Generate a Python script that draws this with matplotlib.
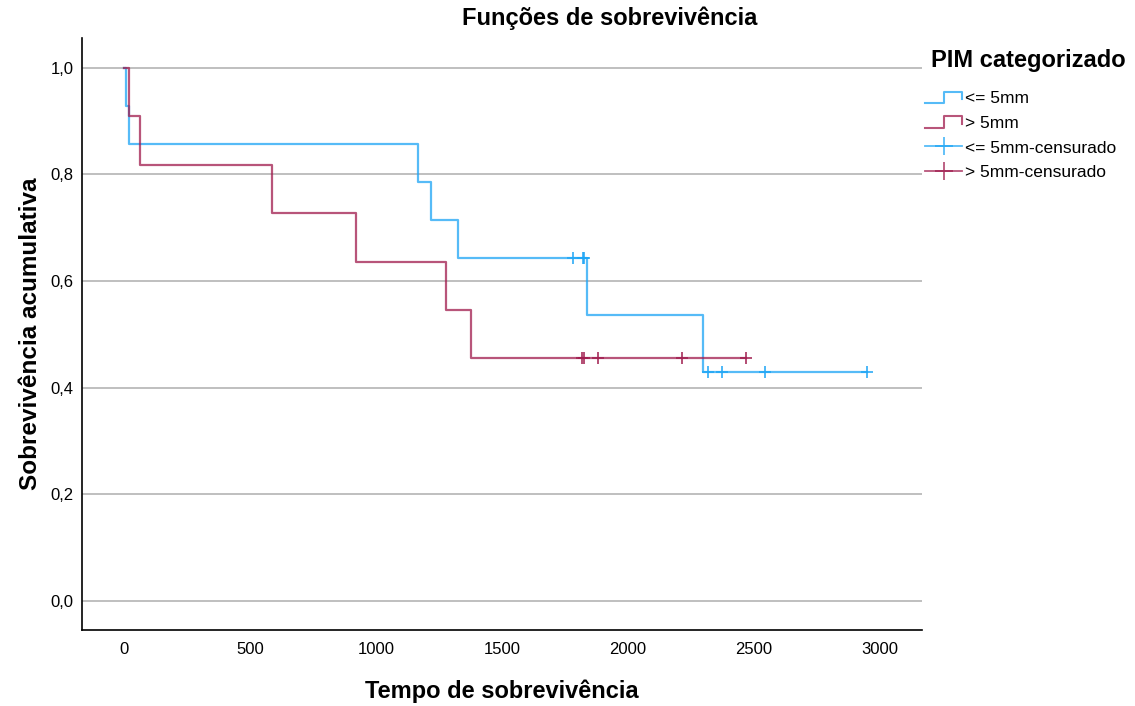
import matplotlib
matplotlib.use("Agg")
import matplotlib.pyplot as plt
from matplotlib.legend_handler import HandlerBase
from matplotlib.lines import Line2D
import numpy as np

# tempos de evento (1 = obito, 0 = censurado)
grp1_label = "<= 5mm"
grp1_time = [7, 21, 1167, 1218, 1325, 1782, 1820, 1826, 1836, 2299, 2319, 2373, 2544, 2947]
grp1_event = [1, 1, 1, 1, 1, 0, 0, 0, 1, 1, 0, 0, 0, 0]

grp2_label = "> 5mm"
grp2_time = [21, 63, 587, 921, 1276, 1377, 1816, 1825, 1880, 2216, 2468]
grp2_event = [1, 1, 1, 1, 1, 1, 0, 0, 0, 0, 0]

xticks = [0, 500, 1000, 1500, 2000, 2500, 3000]
yticks = [0.0, 0.2, 0.4, 0.6, 0.8, 1.0]

blue = "#1EA5F5"
red = "#A01C4E"

plt.rcParams['font.family'] = ['Liberation Sans', 'DejaVu Sans']


def km(times, events):
    t = np.array(times, dtype=float)
    e = np.array(events)
    xs, ys = [0.0], [1.0]
    cx, cy = [], []
    s = 1.0
    at_risk = len(t)
    for ti, ei in zip(t, e):
        if ei == 1:
            s = s * (at_risk - 1) / at_risk
            xs.append(ti)
            ys.append(s)
        else:
            cx.append(ti)
            cy.append(s)
        at_risk -= 1
    xs.append(t.max())
    ys.append(s)
    return xs, ys, cx, cy


class StepHandler(HandlerBase):
    def create_artists(self, legend, orig, xd, yd, width, height, fontsize, trans):
        x = np.array([0, 0.5, 0.5, 1.0, 1.0]) * width - xd
        y = np.array([0.0, 0.0, 0.95, 0.95, 0.35]) * height - yd
        ln = Line2D(x, y, color=orig.get_color(), alpha=orig.get_alpha(),
                    lw=1.5, transform=trans)
        return [ln]


fig = plt.figure(figsize=(11.35, 7.06), dpi=100)
ax = fig.add_axes([82 / 1135, 1 - 630 / 706, (922 - 82) / 1135, (630 - 38) / 706])

for yv in yticks:
    ax.axhline(yv, color="#b4b4b4", lw=1.2, zorder=0)

steps = []
cens = []
for times, events, col, lab in [(grp1_time, grp1_event, blue, grp1_label),
                                (grp2_time, grp2_event, red, grp2_label)]:
    xs, ys, cx, cy = km(times, events)
    ln, = ax.step(xs, ys, where="post", color=col, lw=1.6, alpha=0.75, label=lab)
    steps.append(ln)
    ax.plot(cx, cy, ls="none", marker="+", ms=8, mew=1.3, color=col, alpha=0.85)
    cens.append(Line2D([], [], color=col, alpha=0.75, lw=1.3, marker="+", ms=13,
                       mew=1.3, label=lab + "-censurado"))

ax.set_xlim(-167, 3167)
ax.set_ylim(-0.055, 1.056)
ax.set_xticks(xticks)
ax.set_yticks(yticks)
ax.set_yticklabels([f"{v:.1f}".replace(".", ",") for v in yticks])
ax.tick_params(length=0, labelsize=12)
ax.tick_params(axis="x", pad=9)
ax.tick_params(axis="y", pad=6)
for sp in ["top", "right"]:
    ax.spines[sp].set_visible(False)
ax.spines["left"].set_linewidth(1.2)
ax.spines["bottom"].set_linewidth(1.2)

fig.text(610 / 1135, 1 - 18 / 706, "Funções de sobrevivência", fontsize=17,
         fontweight="bold", ha="center", va="center")
ax.set_xlabel("Tempo de sobrevivência", fontsize=17, fontweight="bold", labelpad=16)
ax.set_ylabel("Sobrevivência acumulativa", fontsize=17.5, fontweight="bold", labelpad=6)

# legenda
fig.text(931 / 1135, 1 - 60 / 706, "PIM categorizado", fontsize=17,
         fontweight="bold", ha="left", va="center")
order = [steps[0], steps[1], cens[0], cens[1]]
leg = fig.legend(order, [x.get_label() for x in order],
                 handler_map={steps[0]: StepHandler(), steps[1]: StepHandler()},
                 loc="upper left", bbox_to_anchor=(925 / 1135, 1 - 91 / 706),
                 frameon=False, fontsize=12.5, borderpad=0, borderaxespad=0,
                 handlelength=2.15, handletextpad=0.15, labelspacing=0.55)

fig.savefig("out.png", dpi=100)
